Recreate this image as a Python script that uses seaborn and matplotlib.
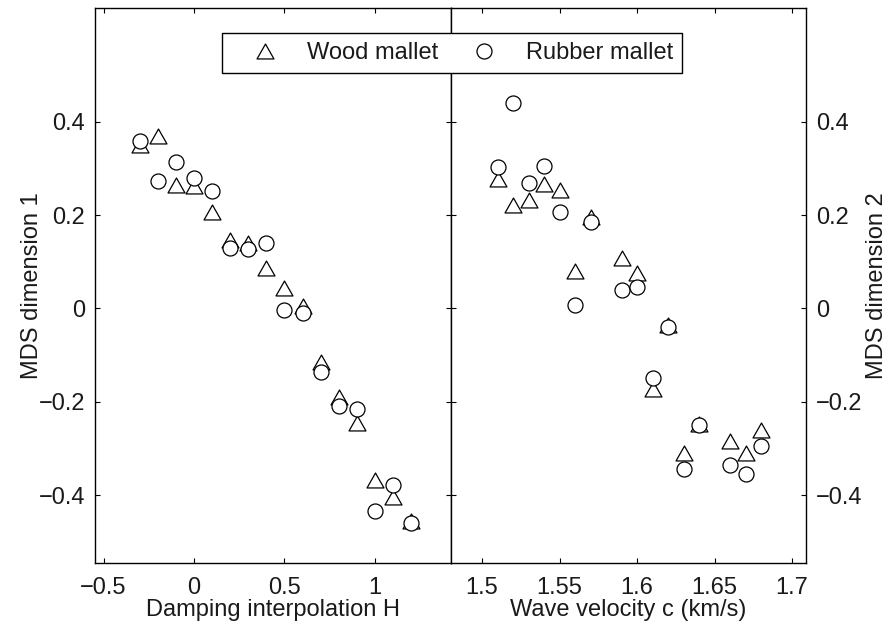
import matplotlib
matplotlib.use("Agg")
import matplotlib.pyplot as plt
import seaborn as sns
from matplotlib.lines import Line2D
from matplotlib.path import Path

# ---- data ----
damping_H = [-0.3, -0.2, -0.1, 0.0, 0.1, 0.2, 0.3, 0.4, 0.5, 0.6, 0.7, 0.8, 0.9, 1.0, 1.1, 1.2]
wood_dim1 = [0.350, 0.370, 0.265, 0.263, 0.207, 0.147, 0.140, 0.086, 0.043, 0.005,
             -0.115, -0.190, -0.245, -0.368, -0.405, -0.455]
rubber_dim1 = [0.360, 0.274, 0.315, 0.279, 0.252, 0.129, 0.127, 0.141, -0.003, -0.009,
               -0.137, -0.210, -0.216, -0.435, -0.378, -0.460]

velocity_c = [1.51, 1.52, 1.53, 1.54, 1.55, 1.56, 1.57, 1.59, 1.60, 1.61, 1.62, 1.63, 1.64, 1.66, 1.67, 1.68]
wood_dim2 = [0.278, 0.222, 0.233, 0.266, 0.253, 0.081, 0.197, 0.108, 0.076, -0.172,
             -0.035, -0.310, -0.248, -0.285, -0.310, -0.260]
rubber_dim2 = [0.303, 0.440, 0.268, 0.305, 0.206, 0.008, 0.185, 0.040, 0.047, -0.148,
               -0.040, -0.345, -0.250, -0.335, -0.355, -0.295]

series_labels = ["Wood mallet", "Rubber mallet"]
yticks = [-0.4, -0.2, 0, 0.2, 0.4]
ytick_labels = ["\u22120.4", "\u22120.2", "0", "0.2", "0.4"]
xticks_left = [-0.5, 0, 0.5, 1]
xtick_labels_left = ["\u22120.5", "0", "0.5", "1"]
xticks_right = [1.5, 1.55, 1.6, 1.65, 1.7]
xtick_labels_right = ["1.5", "1.55", "1.6", "1.65", "1.7"]

# ---- style ----
sns.set_style("ticks")
plt.rcParams["font.family"] = ["Liberation Sans", "DejaVu Sans"]
FS = 17
plt.rcParams["font.size"] = FS
TXT = "#1a1a1a"

W, H = 892, 626
fig = plt.figure(figsize=(W / 100, H / 100), dpi=100)
bot, top = 563, 8
ax1 = fig.add_axes([95 / W, 1 - bot / H, 356 / W, (bot - top) / H])
ax2 = fig.add_axes([451 / W, 1 - bot / H, 355 / W, (bot - top) / H])

# wider-than-tall closed triangle, like MATLAB's '^'
tri = Path([(-1.0, -0.88), (1.0, -0.88), (0.0, 0.88), (-1.0, -0.88)],
           [Path.MOVETO, Path.LINETO, Path.LINETO, Path.CLOSEPOLY])
ms_tri = 12.2
ms_circ = 10.8
lw_m = 0.9

def draw(ax, x, yw, yr):
    sns.scatterplot(x=x, y=yw, marker=tri, s=ms_tri ** 2, color="white",
                    edgecolor="black", linewidth=lw_m, ax=ax, zorder=3, legend=False)
    sns.scatterplot(x=x, y=yr, marker="o", s=ms_circ ** 2, color="white",
                    edgecolor="black", linewidth=lw_m, ax=ax, zorder=4, legend=False)

draw(ax1, damping_H, wood_dim1, rubber_dim1)
draw(ax2, velocity_c, wood_dim2, rubber_dim2)

for ax in (ax1, ax2):
    ax.set_ylim(-0.5455, 0.644)
    ax.set_yticks(yticks)
    ax.set_yticklabels(ytick_labels)
    for sp in ax.spines.values():
        sp.set_visible(True)
        sp.set_linewidth(1.0)
        sp.set_color("black")
    ax.tick_params(direction="in", length=3.4, width=0.8, colors="black",
                   labelcolor=TXT, labelsize=FS, top=True, right=True,
                   bottom=True, left=True)
    ax.tick_params(axis="x", pad=10)
    ax.tick_params(axis="y", pad=7)
    ax.set_facecolor("white")

ax1.set_xlim(-0.547, 1.42)
ax1.set_xticks(xticks_left)
ax1.set_xticklabels(xtick_labels_left)
ax1.tick_params(labelleft=True, labelright=False)

ax2.set_xlim(1.48, 1.709)
ax2.set_xticks(xticks_right)
ax2.set_xticklabels(xtick_labels_right)
ax2.tick_params(labelleft=False, labelright=True)

ax1.set_xlabel("Damping interpolation H", fontsize=FS, color=TXT)
ax2.set_xlabel("Wave velocity c (km/s)", fontsize=FS, color=TXT)
ax1.xaxis.set_label_coords(0.5, -(599 - bot) / (bot - top))
ax2.xaxis.set_label_coords(0.5, -(599 - bot) / (bot - top))

ax1.set_ylabel("MDS dimension 1", fontsize=FS, color=TXT)
ax1.yaxis.set_label_coords((43 - 95) / 356, 0.5)
ax2.yaxis.set_label_position("right")
ax2.set_ylabel("MDS dimension 2", fontsize=FS, color=TXT, rotation=90)
ax2.yaxis.set_label_coords((866 - 451) / 355, 0.5)

handles = [
    Line2D([], [], linestyle="none", marker=tri, markersize=ms_tri, markerfacecolor="white",
           markeredgecolor="black", markeredgewidth=lw_m),
    Line2D([], [], linestyle="none", marker="o", markersize=ms_circ, markerfacecolor="white",
           markeredgecolor="black", markeredgewidth=lw_m),
]
leg = fig.legend(handles, series_labels, loc="upper center",
                 bbox_to_anchor=(452 / W, 1 - 33 / H), ncol=2, frameon=True,
                 fancybox=False, framealpha=1, edgecolor="black", fontsize=FS,
                 borderpad=0.38, handlelength=2.88, handletextpad=0.34,
                 columnspacing=0.5, borderaxespad=0)
leg.get_frame().set_linewidth(1.0)
leg.set_zorder(10)
for t in leg.get_texts():
    t.set_color(TXT)

fig.savefig("out.png", dpi=100, facecolor="white")
